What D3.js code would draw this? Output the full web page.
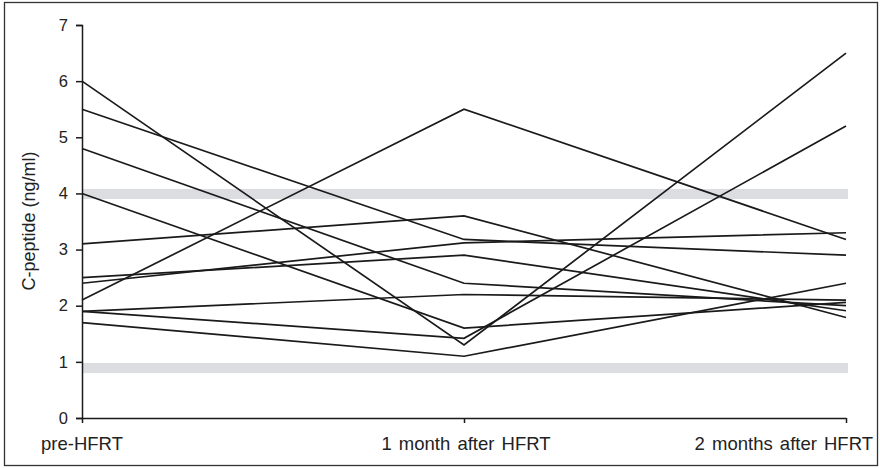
<!DOCTYPE html>
<html>
<head>
<meta charset="utf-8">
<script src="https://cdn.jsdelivr.net/npm/d3@7"></script>
<style>
  html, body { margin: 0; padding: 0; background: #fff; }
  svg { display: block; font-family: "Liberation Sans", Arial, Helvetica, sans-serif; }
</style>
</head>
<body>
<svg id="chart" width="880" height="468"></svg>
<script>
// ---- data ----
const timepoints = ["pre-HFRT", "1 month after HFRT", "2 months after HFRT"];
const yTicks = [0, 1, 2, 3, 4, 5, 6, 7];
const preHFRT      = [6.0, 5.5, 4.8, 4.0, 3.1, 2.5, 2.4, 2.1, 1.9, 1.9, 1.7];
const oneMonth     = [1.3, 3.18, 2.4, 1.6, 3.6, 2.9, 3.12, 5.5, 2.2, 1.42, 1.1];
const twoMonths    = [6.5, 2.9, 2.0, 2.06, 1.79, 1.91, 3.3, 3.18, 2.1, 5.2, 2.4];
const bandLow  = [0.8, 3.9];
const bandHigh = [0.98, 4.08];
const yLabel = "C-peptide (ng/ml)";

// ---- layout ----
const svg = d3.select("#chart");
const x = d3.scalePoint().domain(timepoints).range([82, 846]);
const y = d3.scaleLinear().domain([0, 7]).range([418, 25]);

// frame
svg.append("rect").attr("x", 4.5).attr("y", 2.5).attr("width", 873).attr("height", 463)
  .attr("fill", "none").attr("stroke", "#333").attr("stroke-width", 1.3);

// grey reference bands
svg.append("g").selectAll("rect").data(bandLow.map((d, i) => [d, bandHigh[i]])).join("rect")
  .attr("x", x(timepoints[0]))
  .attr("width", x(timepoints[2]) + 2 - x(timepoints[0]))
  .attr("y", d => y(d[1]))
  .attr("height", d => y(d[0]) - y(d[1]))
  .attr("fill", "#dcdde0");

// lines
const series = preHFRT.map((v, i) => [v, oneMonth[i], twoMonths[i]]);
const line = d3.line().x((d, j) => x(timepoints[j])).y(d => y(d));
svg.append("g").selectAll("path").data(series).join("path")
  .attr("d", line).attr("fill", "none").attr("stroke", "#1a1a1a").attr("stroke-width", 1.7)
  .attr("stroke-linejoin", "miter");

// y axis
const yAxis = svg.append("g").attr("transform", `translate(${x(timepoints[0])},0)`)
  .call(d3.axisLeft(y).tickValues(yTicks).tickSize(6).tickPadding(8).tickFormat(d3.format("d")));
yAxis.select(".domain").attr("stroke", "#1a1a1a").attr("stroke-width", 1.5);
yAxis.selectAll(".tick line").attr("stroke", "#1a1a1a").attr("stroke-width", 1.5);
yAxis.selectAll(".tick text").attr("font-size", 16.5).attr("fill", "#222")
  .attr("font-family", "Liberation Sans, Arial, sans-serif");

// x axis
const xAxis = svg.append("g").attr("transform", `translate(0,${y(0)})`)
  .call(d3.axisBottom(x).tickSize(5).tickSizeOuter(0).tickFormat(""));
xAxis.select(".domain").attr("stroke", "#1a1a1a").attr("stroke-width", 1.5);
xAxis.selectAll(".tick line").attr("stroke", "#1a1a1a").attr("stroke-width", 1.5);

// x labels
const anchors = ["middle", "middle", "end"];
const dxs = [0, 2, 27];
svg.append("g").selectAll("text").data(timepoints).join("text")
  .attr("x", (d, i) => x(d) + dxs[i])
  .attr("y", 450)
  .attr("text-anchor", (d, i) => anchors[i])
  .attr("font-size", 18.5)
  .attr("word-spacing", 2)
  .attr("fill", "#222")
  .text(d => d);

// y label
svg.append("text")
  .attr("transform", "translate(35,221) rotate(-90)")
  .attr("text-anchor", "middle")
  .attr("font-size", 18)
  .attr("fill", "#222")
  .text(yLabel);
</script>
</body>
</html>
